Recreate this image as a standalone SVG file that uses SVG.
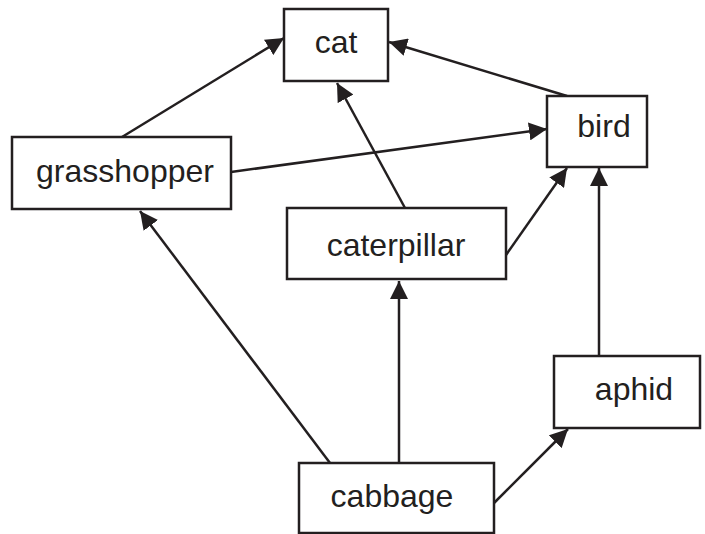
<svg xmlns="http://www.w3.org/2000/svg" width="705" height="534" viewBox="0 0 705 534">
<defs>
<style>
.box{fill:#fff;stroke:#231f20;stroke-width:2.5}
.lbl{font-family:"Liberation Sans",Arial,sans-serif;font-size:32px;fill:#231f20;text-anchor:middle}
.edge{stroke:#231f20;stroke-width:2.5;fill:none;marker-end:url(#ah)}
</style>
<marker id="ah" viewBox="0 0 10 10" refX="10" refY="5" markerWidth="18" markerHeight="18" markerUnits="userSpaceOnUse" orient="auto">
<path d="M0,0 L10,5 L0,10 z" fill="#231f20"/>
</marker>
</defs>
<rect width="705" height="534" fill="#fff"/>
<g id="connectors">
<line class="edge" x1="122" y1="137" x2="284" y2="38"/>
<line class="edge" x1="567" y1="96" x2="389" y2="42"/>
<line class="edge" x1="231" y1="172" x2="547" y2="129"/>
<line class="edge" x1="405" y1="208" x2="337" y2="83"/>
<line class="edge" x1="506" y1="255" x2="567" y2="168"/>
<line class="edge" x1="599" y1="356" x2="599" y2="168"/>
<line class="edge" x1="330" y1="463" x2="140" y2="211"/>
<line class="edge" x1="399" y1="463" x2="399" y2="281"/>
<line class="edge" x1="494" y1="503" x2="568" y2="429"/>
</g>
<g id="cat"><rect class="box" x="284" y="9" width="104" height="72"/><text class="lbl" x="336" y="53">cat</text></g>
<g id="bird"><rect class="box" x="547" y="96" width="100" height="71"/><text class="lbl" x="604" y="137">bird</text></g>
<g id="grasshopper"><rect class="box" x="12" y="137" width="219" height="72"/><text class="lbl" x="125" y="182">grasshopper</text></g>
<g id="caterpillar"><rect class="box" x="287" y="208" width="219" height="71"/><text class="lbl" x="396" y="256">caterpillar</text></g>
<g id="aphid"><rect class="box" x="554" y="356" width="146" height="72"/><text class="lbl" x="634" y="400">aphid</text></g>
<g id="cabbage"><rect class="box" x="299" y="463" width="195" height="70"/><text class="lbl" x="392" y="507">cabbage</text></g>
</svg>
